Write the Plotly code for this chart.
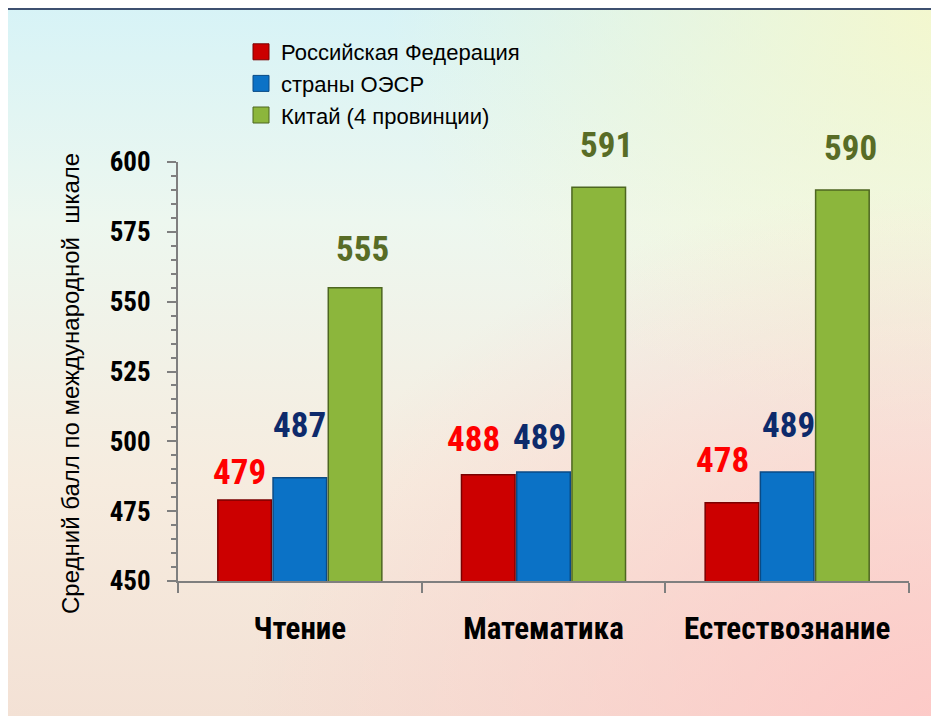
import base64
import plotly.graph_objects as go

# ---------------- data ----------------
categories = ["Чтение", "Математика", "Естествознание"]
series_names = ["Российская Федерация", "страны ОЭСР", "Китай (4 провинции)"]
russia = [479, 488, 478]
oecd = [487, 489, 489]
china = [555, 591, 590]
y_title = "Средний балл по международной  шкале"
y_ticks = [450, 475, 500, 525, 550, 575, 600]

# ---------------- styles ----------------
OFF = 8  # page body margin
W, H = 939 - OFF, 716 - OFF
ML, MR, MT, MB = 178 - OFF, 30, 162 - OFF, 135
PW, PH = W - ML - MR, H - MT - MB

fill_colors = ["#cc0000", "#0b72c6", "#8cb63c"]
line_colors = ["#7a0000", "#0a4a85", "#4d6620"]
label_colors = ["#ff0000", "#0d2a6b", "#586c26"]
# label offsets (px) relative to bar centre / bar top
label_dx = [[-5, 0, 8], [-15, -4, 8], [-10, 1, 8]]
label_gap = [[5, 30, 16], [13, 12, 19], [20, 24, 19]]
bar_offset_px = [-55, 0, 55]

NARROW = "Liberation Sans Narrow, Arial Narrow, Roboto Condensed, DejaVu Sans Condensed, sans-serif"
REG = "Liberation Sans, Arial, sans-serif"


def px_x(p):
    return (p - OFF - ML) / PW


def px_y(p):
    return (H - MB - (p - OFF)) / PH


SW, SH = 960, 740
svg = f"""<svg xmlns='http://www.w3.org/2000/svg' width='{SW}' height='{SH}' viewBox='0 0 {SW} {SH}' preserveAspectRatio='none'>
<defs>
<linearGradient id='v' x1='0' y1='0' x2='0' y2='1'>
<stop offset='0' stop-color='#d6f3f7'/>
<stop offset='0.3' stop-color='#edf7ef'/>
<stop offset='0.65' stop-color='#f6ecdf'/>
<stop offset='1' stop-color='#f3e0d4'/>
</linearGradient>
<radialGradient id='p' cx='1' cy='1' r='0.75'>
<stop offset='0' stop-color='#ffc4c4' stop-opacity='0.85'/>
<stop offset='1' stop-color='#ffc4c4' stop-opacity='0'/>
</radialGradient>
<radialGradient id='y' cx='1' cy='0' r='0.6'>
<stop offset='0' stop-color='#f8f8c8' stop-opacity='0.9'/>
<stop offset='1' stop-color='#f8f8c8' stop-opacity='0'/>
</radialGradient>
</defs>
<rect width='{SW}' height='{SH}' fill='url(#v)'/>
<rect width='{SW}' height='{SH}' fill='url(#y)'/>
<rect width='{SW}' height='{SH}' fill='url(#p)'/>
</svg>"""
bg_src = "data:image/svg+xml;base64," + base64.b64encode(svg.encode()).decode()

fig = go.Figure()
all_series = [russia, oecd, china]
for i, (name, vals) in enumerate(zip(series_names, all_series)):
    fig.add_trace(go.Bar(
        x=categories, y=vals, name=name, showlegend=False,
        marker=dict(color=fill_colors[i], line=dict(color=line_colors[i], width=1.5)),
        hoverinfo="skip",
    ))
for i, name in enumerate(series_names):
    fig.add_trace(go.Scatter(
        x=[None], y=[None], mode="markers", name=name,
        marker=dict(symbol="square", size=16, color=fill_colors[i],
                    line=dict(color=line_colors[i], width=1)),
    ))

annotations = []
for i, vals in enumerate(all_series):
    for j, v in enumerate(vals):
        annotations.append(dict(
            x=categories[j], y=v, xref="x", yref="y", text=str(v), showarrow=False,
            xanchor="center", yanchor="bottom",
            xshift=bar_offset_px[i] + label_dx[j][i], yshift=label_gap[j][i],
            font=dict(family=NARROW, size=35, color=label_colors[i], weight="bold"),
        ))
annotations.append(dict(
    x=px_x(70), y=px_y(384), xref="paper", yref="paper", text=y_title, showarrow=False,
    textangle=-90, xanchor="center", yanchor="middle",
    font=dict(family=REG, size=24, color="#000000"),
))

shapes = [
    dict(type="line", xref="paper", yref="paper", x0=px_x(7), x1=px_x(SW),
         y0=px_y(9), y1=px_y(9), line=dict(color="#3e5070", width=2), layer="above"),
    dict(type="line", xref="paper", yref="paper", x0=px_x(7), x1=px_x(7),
         y0=px_y(9), y1=px_y(SH), line=dict(color="#3e5070", width=2), layer="above"),
]

fig.update_layout(
    width=W, height=H,
    margin=dict(l=ML, r=MR, t=MT, b=MB),
    paper_bgcolor="#f4efe6", plot_bgcolor="rgba(0,0,0,0)",
    barmode="group", bargap=0.32, bargroupgap=0.03,
    images=[dict(source=bg_src, xref="paper", yref="paper", x=px_x(0), y=px_y(0),
                 sizex=SW / PW, sizey=SH / PH, sizing="stretch", layer="below",
                 xanchor="left", yanchor="top")],
    legend=dict(x=px_x(241), y=px_y(31), xanchor="left", yanchor="top",
                bgcolor="rgba(0,0,0,0)", font=dict(family=REG, size=22, color="#000"),
                itemwidth=30, tracegroupgap=0),
    annotations=annotations, shapes=shapes,
    xaxis=dict(
        range=[-0.5, 2.5], showline=True, linecolor="#7f7f7f", linewidth=2,
        ticks="outside", tickson="boundaries", ticklen=10, tickcolor="#7f7f7f", tickwidth=2,
        tickfont=dict(family=NARROW, size=31, color="#000", weight="bold"),
        ticklabelstandoff=19, showgrid=False, zeroline=False,
    ),
    yaxis=dict(
        range=[450, 600], tickvals=y_ticks, showline=True, linecolor="#7f7f7f", linewidth=2,
        ticks="outside", ticklen=9, tickcolor="#7f7f7f", tickwidth=2,
        minor=dict(dtick=5, ticks="outside", ticklen=5, tickcolor="#7f7f7f", tickwidth=1.5),
        tickfont=dict(family=NARROW, size=27, color="#000", weight="bold"),
        ticklabelstandoff=11, showgrid=False, zeroline=False,
    ),
)

fig.write_html("out.html")
